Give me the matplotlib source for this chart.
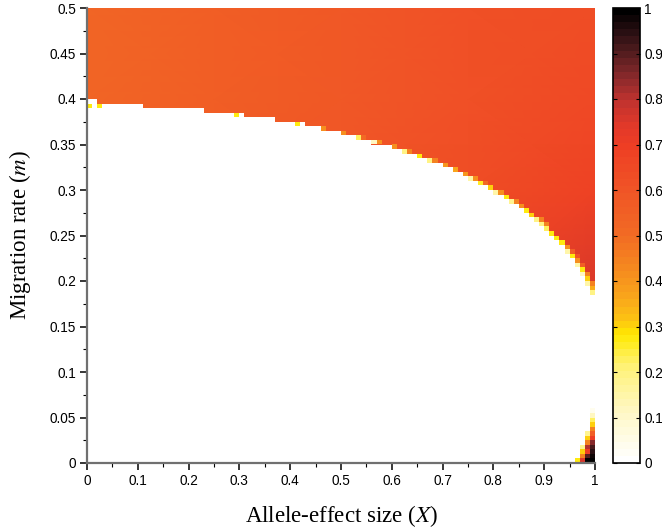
import numpy as np
import matplotlib
matplotlib.use("Agg")
import matplotlib.pyplot as plt
from matplotlib.colors import LinearSegmentedColormap, ListedColormap
from matplotlib.ticker import FuncFormatter, MultipleLocator

# ---------------- colour scale ----------------
cmap_pos = [0.0, 0.1, 0.2, 0.28, 0.31, 0.36, 0.4, 0.45, 0.5, 0.6, 0.7, 0.75, 0.8, 0.85, 0.9, 0.95, 1.0]
cmap_col = ['#ffffff', '#fff8c8', '#fff27c', '#ffe900', '#fdc512', '#f9a61b', '#f7941d',
            '#f47f20', '#f26b24', '#f05526', '#ee3e24', '#e0382a', '#c2332e', '#8e2a2c',
            '#5c1f21', '#2c1013', '#000000']

# ---------------- smooth field above the boundary (coarse readings) ----------------
field_X = [0.0, 0.25, 0.5, 0.75, 1.0]
field_m = [0.18, 0.3, 0.4, 0.5]
field_val = [[0.54, 0.58, 0.62, 0.68, 0.76],
             [0.53, 0.57, 0.60, 0.64, 0.68],
             [0.53, 0.56, 0.59, 0.62, 0.65],
             [0.52, 0.55, 0.58, 0.61, 0.63]]

# ---------------- boundary: lower edge of coloured region, per X column ----------------
boundary_m = ([0.40] * 2 + [0.39] + [0.395] * 8 + [0.39] * 12 + [0.385] * 6 + [0.38] + [0.385]
              + [0.38] * 6 + [0.375] * 4 + [0.37] + [0.375] + [0.37] * 3 + [0.365] * 4
              + [0.36] * 3 + [0.355] * 3 + [0.35] * 4 + [0.345] * 2 + [0.34] * 3 + [0.335] * 2
              + [0.33] * 3 + [0.325] * 2 + [0.32] * 2 + [0.315] + [0.31] * 2 + [0.305] * 2
              + [0.30] + [0.295] * 2 + [0.29] + [0.285] * 2
              + [0.28, 0.275, 0.27, 0.265, 0.26, 0.255, 0.25, 0.245, 0.24, 0.23,
                 0.225, 0.215, 0.205, 0.195, 0.185])

# lowest cell of a column (at the boundary) when it differs from the field
edge_X = [0.02, 0.29, 0.41, 0.46, 0.50, 0.53, 0.54, 0.56, 0.57, 0.60, 0.62, 0.63, 0.65, 0.67,
          0.68, 0.70, 0.72, 0.74, 0.75, 0.76, 0.77, 0.78, 0.79, 0.80, 0.81, 0.82, 0.83, 0.84,
          0.85, 0.86, 0.87, 0.88, 0.89, 0.90, 0.91, 0.92, 0.93, 0.94, 0.95, 0.96, 0.97, 0.98, 0.99]
edge_val = [0.28, 0.28, 0.28, 0.42, 0.42, 0.22, 0.50, 0.12, 0.42, 0.42, 0.20, 0.45, 0.28, 0.20,
            0.45, 0.40, 0.36, 0.40, 0.15, 0.42, 0.25, 0.50, 0.30, 0.15, 0.42, 0.28, 0.18, 0.45,
            0.42, 0.28, 0.30, 0.20, 0.20, 0.22, 0.28, 0.28, 0.28, 0.15, 0.27, 0.15, 0.12, 0.15, 0.20]

# other single cells (lower-left corner X, m and value)
spot_X = [0.00, 0.89, 0.90, 0.94, 0.95, 0.96, 0.96, 0.97, 0.97, 0.98, 0.98, 0.99, 0.99,
          0.99, 0.99, 0.99, 0.99, 0.99, 0.99, 0.99, 0.99, 0.99, 0.99, 0.99, 0.99,
          0.98, 0.98, 0.98, 0.98, 0.98, 0.98, 0.98,
          0.97, 0.97, 0.97, 0.97, 0.96]
spot_m = [0.390, 0.265, 0.260, 0.235, 0.230, 0.220, 0.225, 0.210, 0.215, 0.200, 0.205, 0.190, 0.195,
          0.000, 0.005, 0.010, 0.015, 0.020, 0.025, 0.030, 0.035, 0.040, 0.045, 0.050, 0.055,
          0.000, 0.005, 0.010, 0.015, 0.020, 0.025, 0.030,
          0.000, 0.005, 0.010, 0.015, 0.000]
spot_val = [0.28, 0.45, 0.45, 0.42, 0.55, 0.42, 0.62, 0.28, 0.55, 0.30, 0.45, 0.35, 0.45,
            1.00, 0.98, 0.95, 0.92, 0.85, 0.70, 0.55, 0.45, 0.30, 0.22, 0.12, 0.04,
            1.00, 0.90, 0.70, 0.80, 0.45, 0.30, 0.18,
            0.75, 0.45, 0.30, 0.18, 0.28]

x_ticks = [0, 0.1, 0.2, 0.3, 0.4, 0.5, 0.6, 0.7, 0.8, 0.9, 1]
y_ticks = [0, 0.05, 0.1, 0.15, 0.2, 0.25, 0.3, 0.35, 0.4, 0.45, 0.5]
cb_ticks = [0, 0.1, 0.2, 0.3, 0.4, 0.5, 0.6, 0.7, 0.8, 0.9, 1]

# ---------------- figure ----------------
plt.rcParams['mathtext.fontset'] = 'stix'
cmap = LinearSegmentedColormap.from_list('whot', list(zip(cmap_pos, cmap_col)))
cmap = ListedColormap(cmap(np.linspace(0, 1, 64)))

fig = plt.figure(figsize=(6.62, 5.28), dpi=100)
ax = fig.add_axes([87 / 662, 65 / 528, 508 / 662, 455 / 528])
cax = fig.add_axes([613 / 662, 65 / 528, 27 / 662, 455 / 528])

# smooth field
ax.pcolormesh(field_X, field_m, np.array(field_val), shading='gouraud',
              cmap=cmap, vmin=0, vmax=1, zorder=1)

# white region below the boundary
nx, ny = 100, 100
X_edges = np.linspace(0, 1, nx + 1)
m_edges = np.linspace(0, 0.5, ny + 1)
ax.stairs(boundary_m, X_edges, baseline=0, fill=True, color='white', zorder=2, lw=0)

# individual cells
cells = np.full((ny, nx), np.nan)
for xv, v in zip(edge_X, edge_val):
    i = int(round(xv / 0.01))
    j = int(round(boundary_m[i] / 0.005))
    cells[j, i] = v
for xv, mv, v in zip(spot_X, spot_m, spot_val):
    cells[int(round(mv / 0.005)), int(round(xv / 0.01))] = v
ax.pcolormesh(X_edges, m_edges, np.ma.masked_invalid(cells), cmap=cmap, vmin=0, vmax=1,
              zorder=3, lw=0, antialiased=False)

ax.set_xlim(0, 1)
ax.set_ylim(0, 0.5)
fmt = FuncFormatter(lambda v, p: '%g' % round(v, 3))
ax.set_xticks(x_ticks)
ax.set_yticks(y_ticks)
ax.xaxis.set_major_formatter(fmt)
ax.yaxis.set_major_formatter(fmt)
ax.xaxis.set_minor_locator(MultipleLocator(0.05))
ax.yaxis.set_minor_locator(MultipleLocator(0.025))
for s in ['top', 'right']:
    ax.spines[s].set_visible(False)
for s in ['left', 'bottom']:
    ax.spines[s].set_color('#707070')
    ax.spines[s].set_linewidth(1.6)
    ax.spines[s].set_zorder(5)
ax.tick_params(which='major', direction='out', length=5, width=1.1, labelsize=9.8,
               color='black', pad=3)
ax.tick_params(which='minor', direction='out', length=3, width=0.8, color='black')
for lab in ax.get_xticklabels() + ax.get_yticklabels():
    lab.set_fontfamily('Liberation Sans')

ax.set_xlabel(r'Allele-effect size ($X$)', fontsize=16.5, fontfamily='Liberation Serif', labelpad=11)
ax.set_ylabel(r'Migration rate ($m$)', fontsize=16.5, fontfamily='Liberation Serif', labelpad=12)

sm = matplotlib.cm.ScalarMappable(cmap=cmap, norm=matplotlib.colors.Normalize(0, 1))
cb = fig.colorbar(sm, cax=cax, ticks=cb_ticks)
cb.ax.yaxis.set_major_formatter(fmt)
cb.outline.set_linewidth(1.2)
cb.ax.tick_params(direction='in', left=True, right=True, length=3, width=0.8, labelsize=9.8, pad=3)
for lab in cb.ax.get_yticklabels():
    lab.set_fontfamily('Liberation Sans')

fig.savefig('out.png', dpi=100)
